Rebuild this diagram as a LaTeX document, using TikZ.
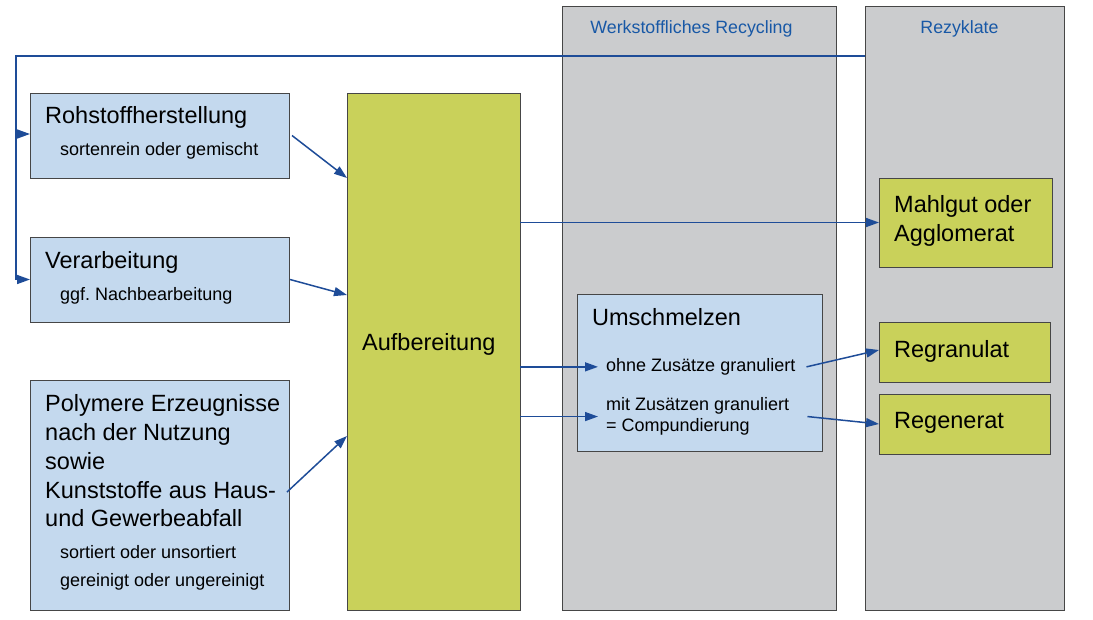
\documentclass[tikz,border=0pt]{standalone}
\usepackage{fontspec}
\setmainfont{Liberation Sans}
\usetikzlibrary{arrows.meta,calc}
\definecolor{colgray}{RGB}{203,204,206}
\definecolor{boxblue}{RGB}{196,217,238}
\definecolor{boxgreen}{RGB}{201,209,90}
\definecolor{arrowblue}{RGB}{30,76,152}
\definecolor{titleblue}{RGB}{24,88,166}
\definecolor{edgegray}{RGB}{70,70,70}
\tikzset{
  x=1pt, y=-1pt,
  colbox/.style={draw=edgegray, line width=1pt, fill=colgray, rectangle, inner sep=0pt, outer sep=0pt, anchor=north west},
  bluebox/.style={draw=edgegray, line width=1pt, fill=boxblue, rectangle, inner sep=0pt, outer sep=0pt, anchor=north west},
  greenbox/.style={draw=edgegray, line width=1pt, fill=boxgreen, rectangle, inner sep=0pt, outer sep=0pt, anchor=north west},
  bigtxt/.style={anchor=base west, inner sep=0pt, font=\fontsize{23.5}{28.7}\selectfont, align=left},
  smalltxt/.style={anchor=base west, inner sep=0pt, font=\fontsize{18}{21}\selectfont, align=left},
  titletxt/.style={anchor=base, inner sep=0pt, font=\fontsize{17.8}{21}\selectfont, text=titleblue},
  arr/.style={draw=arrowblue, line width=1.5pt, -{Triangle[length=13pt,width=9pt]}},
  fbline/.style={draw=arrowblue, line width=1.5pt},
}
\begin{document}
\begin{tikzpicture}
\useasboundingbox (0,0) rectangle (1093,619);
% columns
\node[colbox, minimum width=274pt, minimum height=604pt] (col1) at (562,6) {};
\node[colbox, minimum width=199pt, minimum height=604pt] (col2) at (865,6) {};
\node[titletxt] (t1) at (691.5,33.5) {Werkstoffliches Recycling};
\node[titletxt] (t2) at (959.5,33.5) {Rezyklate};
% left boxes
\node[bluebox, minimum width=259pt, minimum height=85pt] (roh) at (30,93) {};
\node[bigtxt] (rohT) at (45,123.5) {Rohstoffherstellung};
\node[smalltxt] (rohS) at (60,155.5) {sortenrein oder gemischt};
\node[bluebox, minimum width=259pt, minimum height=85pt] (ver) at (30,237) {};
\node[bigtxt] (verT) at (45,268) {Verarbeitung};
\node[smalltxt] (verS) at (60,300) {ggf.\ Nachbearbeitung};
\node[bluebox, minimum width=259pt, minimum height=230pt] (poly) at (30,380) {};
\node[bigtxt] (polyT) at (45,526.7) {Polymere Erzeugnisse\\nach der Nutzung\\sowie\\Kunststoffe aus Haus-\\und Gewerbeabfall};
\node[smalltxt, font=\fontsize{18}{28.7}\selectfont] (polyS) at (60,586.7) {sortiert oder unsortiert\\gereinigt oder ungereinigt};
% Aufbereitung
\node[greenbox, minimum width=173pt, minimum height=517pt] (auf) at (347,93) {};
\node[bigtxt] (aufT) at (362,350) {Aufbereitung};
% Umschmelzen
\node[bluebox, minimum width=245pt, minimum height=157pt] (ums) at (577,294) {};
\node[bigtxt] (umsT) at (592,325) {Umschmelzen};
\node[smalltxt] (ohne) at (606,371.5) {ohne Zusätze granuliert};
\node[smalltxt] (mit) at (606,431.7) {mit Zusätzen granuliert\\= Compundierung};
% Rezyklate
\node[greenbox, minimum width=173pt, minimum height=89pt] (mahl) at (879,178) {};
\node[bigtxt] (mahlT) at (894,241.5) {Mahlgut oder\\Agglomerat};
\node[greenbox, minimum width=171pt, minimum height=60pt] (regr) at (879,322) {};
\node[bigtxt] (regrT) at (894,357) {Regranulat};
\node[greenbox, minimum width=171pt, minimum height=60pt] (rege) at (879,394) {};
\node[bigtxt] (regeT) at (894,428) {Regenerat};
% feedback line
\coordinate (fbstart) at ($(col2.north west)+(0,50)$);
\coordinate (fbtop) at (16,56);
\coordinate (fbroh) at ($(roh.west)+(-14,-1.5)$);
\coordinate (fbver) at ($(ver.west)+(-14,0)$);
\draw[fbline] (fbstart) -- (fbtop) -- (fbver);
\draw[arr] (fbroh) -- (fbroh -| roh.west);
\draw[arr] (fbver) -- (ver.west);
% arrows into Aufbereitung
\draw[arr] ([xshift=3pt]roh.east) -- ($(auf.north west)+(0,85)$);
\draw[arr] ([xshift=1pt]ver.east) -- ($(auf.north west)+(0,202)$);
\draw[arr] ($(poly.east)+(-2,-3)$) -- ($(auf.north west)+(0,343)$);
% out of Aufbereitung
\draw[arr] (auf.east |- mahl.west) -- (mahl.west);
\draw[arr] (auf.east |- ohne.west) -- ([xshift=-8pt]ohne.west);
\draw[arr] (auf.east |- mit.west) -- ([xshift=-8pt]mit.west);
% to Rezyklate
\draw[arr] ([xshift=11pt]ohne.east) -- ($(regr.west)+(0,-2)$);
\draw[arr] ($(mit.east)+(18,0)$) -- (rege.west);
\end{tikzpicture}
\end{document}
